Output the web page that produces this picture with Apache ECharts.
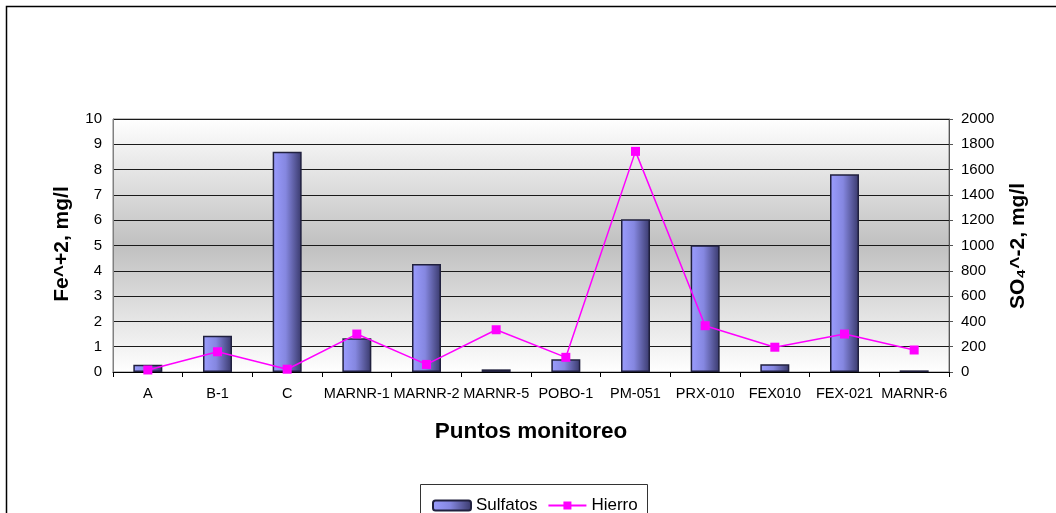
<!DOCTYPE html>
<html>
<head>
<meta charset="utf-8">
<script src="https://cdn.jsdelivr.net/npm/echarts/dist/echarts.min.js"></script>
<style>
  html, body { margin: 0; padding: 0; background: #ffffff; }
  #chart { width: 1056px; height: 513px; }
</style>
</head>
<body>
<div id="chart"></div>
<script>
// Monitoring points along the x axis
const categories = ['A', 'B-1', 'C', 'MARNR-1', 'MARNR-2', 'MARNR-5', 'POBO-1', 'PM-051', 'PRX-010', 'FEX010', 'FEX-021', 'MARNR-6'];
// Sulphate concentration, mg/l (right axis)
const sulfatos = [58, 287, 1741, 266, 854, 21, 100, 1207, 1001, 61, 1563, 13];
// Ferrous iron concentration, mg/l (left axis)
const hierro = [0.08, 0.80, 0.11, 1.50, 0.30, 1.67, 0.58, 8.72, 1.83, 0.98, 1.50, 0.87];
// Axis ranges and ticks
const feAxis = { min: 0, max: 10, interval: 1 };
const so4Axis = { min: 0, max: 2000, interval: 200 };

const FONT = '"Liberation Sans", Arial, sans-serif';
const chart = echarts.init(document.getElementById('chart'), null, { renderer: 'canvas' });

const barFill = new echarts.graphic.LinearGradient(0, 0, 1, 0, [
  { offset: 0, color: '#9b9dff' },
  { offset: 0.45, color: '#8587e0' },
  { offset: 1, color: '#38386a' }
]);

const plotFill = new echarts.graphic.LinearGradient(0, 0, 0, 1, [
  { offset: 0, color: '#ffffff' },
  { offset: 0.5, color: '#c0c0c0' },
  { offset: 1, color: '#ffffff' }
]);

chart.setOption({
  animation: false,
  backgroundColor: '#ffffff',
  grid: {
    left: 113, right: 107, top: 119, bottom: 141,
    show: true,
    backgroundColor: plotFill,
    borderColor: '#808080',
    borderWidth: 1
  },
  legend: {
    left: 427, top: 492,
    itemWidth: 38, itemHeight: 10, itemGap: 10,
    textStyle: { fontFamily: FONT, fontSize: 17, color: '#000' },
    data: ['Sulfatos', 'Hierro']
  },
  xAxis: {
    type: 'category',
    data: categories,
    boundaryGap: true,
    axisLine: { lineStyle: { color: '#000', width: 1 } },
    axisTick: { show: true, alignWithLabel: false, length: 5, lineStyle: { color: '#000' } },
    axisLabel: { fontFamily: FONT, fontSize: 14.5, color: '#000', margin: 14, interval: 0 },
    splitLine: { show: false }
  },
  yAxis: [
    {
      type: 'value',
      min: feAxis.min, max: feAxis.max, interval: feAxis.interval,
      position: 'left',
      axisLine: { show: true, lineStyle: { color: '#808080' } },
      axisTick: { show: false },
      axisLabel: { fontFamily: FONT, fontSize: 15, color: '#000', margin: 11, formatter: v => String(v) },
      splitLine: { show: true, lineStyle: { color: '#1a1a1a', width: 1 } }
    },
    {
      type: 'value',
      min: so4Axis.min, max: so4Axis.max, interval: so4Axis.interval,
      position: 'right',
      axisLine: { show: true, lineStyle: { color: '#555' } },
      axisTick: { show: true, length: 4, lineStyle: { color: '#555' } },
      axisLabel: { fontFamily: FONT, fontSize: 15, color: '#000', margin: 12, formatter: v => String(v) },
      splitLine: { show: false }
    }
  ],
  series: [
    {
      name: 'Sulfatos',
      type: 'bar',
      yAxisIndex: 1,
      data: sulfatos,
      barWidth: 29,
      itemStyle: { color: barFill, borderColor: '#20203e', borderWidth: 1.5 }
    },
    {
      name: 'Hierro',
      type: 'line',
      yAxisIndex: 0,
      data: hierro,
      symbol: 'rect',
      symbolSize: 9,
      lineStyle: { color: '#ff00ff', width: 1.5 },
      itemStyle: { color: '#ff00ff' },
      z: 5
    }
  ],
  graphic: [
    // outer chart frame
    { type: 'rect', shape: { x: 6.5, y: 6.5, width: 1200, height: 700 },
      style: { fill: null, stroke: '#000', lineWidth: 1.5 }, silent: true, z: -10 },
    // legend frame
    { type: 'rect', shape: { x: 420.5, y: 484.5, width: 227, height: 60 },
      style: { fill: '#fff', stroke: '#333', lineWidth: 1 }, z: -5 },
    // axis titles
    { type: 'text', x: 62, y: 244, rotation: Math.PI / 2,
      style: { text: 'Fe^+2, mg/l', font: 'bold 21px ' + FONT, fill: '#000', textAlign: 'center', textVerticalAlign: 'middle' } },
    { type: 'text', x: 1018, y: 246, rotation: Math.PI / 2,
      style: { text: 'SO₄^-2, mg/l', font: 'bold 21px ' + FONT, fill: '#000', textAlign: 'center', textVerticalAlign: 'middle' } },
    { type: 'text', x: 531, y: 432,
      style: { text: 'Puntos monitoreo', font: 'bold 22.5px ' + FONT, fill: '#000', textAlign: 'center', textVerticalAlign: 'middle' } }
  ]
});
</script>
</body>
</html>
